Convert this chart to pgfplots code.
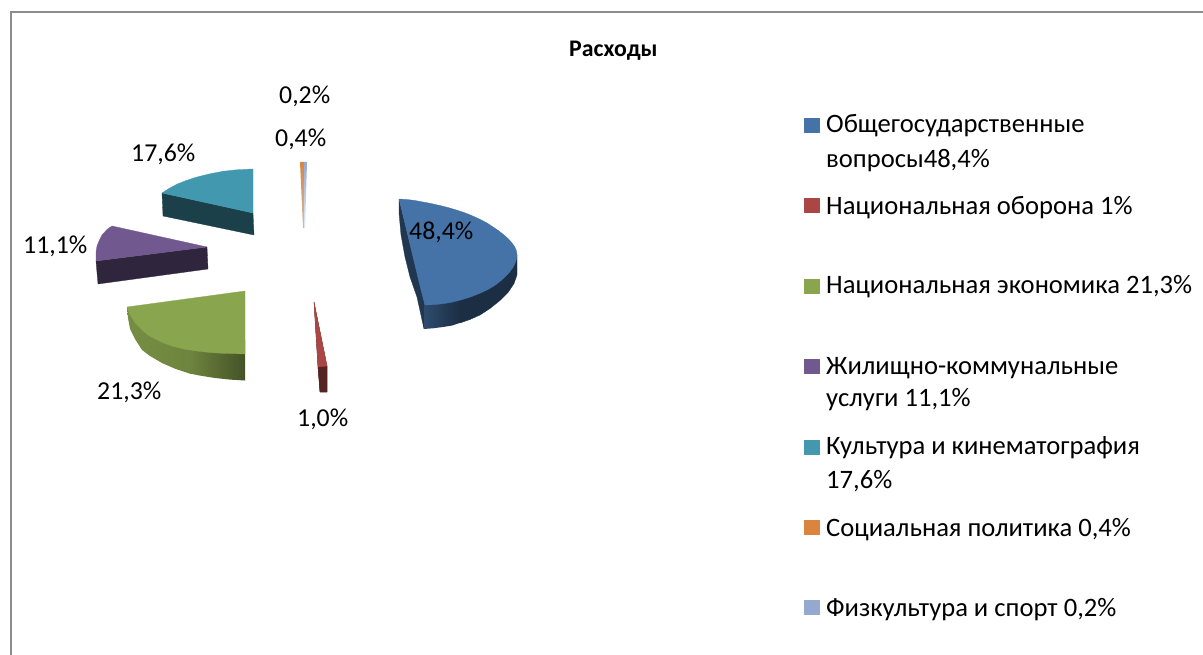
\documentclass[border=0pt]{standalone}
\usepackage{pgfplots}
\pgfplotsset{compat=1.18}
\usepackage{fontspec}
\setmainfont{Carlito}
\newcommand\face[2]{\addplot[fill=#1,draw=#1,line width=0.3pt,line join=round] coordinates {#2} --cycle;}
\newcommand\grad[3]{\addplot[draw=none,shade,left color=#1,right color=#2] coordinates {#3} --cycle;}
\newcommand\vgrad[3]{\addplot[draw=none,shade,top color=#1,bottom color=#2] coordinates {#3} --cycle;}
\newcommand\lab[3]{\node[anchor=base west,inner sep=0pt,font=\fontsize{25.8}{25.8}\selectfont,text=black] at (axis cs:#1,#2) {#3};}
\newcommand\leg[3]{\node[anchor=base west,inner sep=0pt,font=\fontsize{26.6}{26.6}\selectfont,text=black] at (axis cs:#1,#2) {#3};}
\definecolor{cb}{HTML}{4572A7}\definecolor{cr}{HTML}{AA4643}\definecolor{cg}{HTML}{89A54E}
\definecolor{cp}{HTML}{71588F}\definecolor{ct}{HTML}{4198AF}\definecolor{co}{HTML}{DB843D}\definecolor{cl}{HTML}{93A9CF}
\begin{document}
\begin{tikzpicture}
\path[use as bounding box] (0,0) rectangle (1203pt,655pt);
\begin{axis}[scale only axis,width=1203pt,height=655pt,xmin=0,xmax=1203,ymin=0,ymax=655,y dir=reverse,hide axis]
% frame
\addplot[draw=black!45,line width=2pt] coordinates {(10.5,655) (10.5,12.5) (1203,12.5)};
% blue side
\face{cb!48!black}{(399,199) (399,213) (401,235) (405,257) (410,277) (417,297) (424,329) (425,305)}
\grad{cb!66!black}{cb!40!black}{(425,295) (424,329) (433,328.3) (443,327) (452,325.5) (461,322.5) (461,295)}
\face{cb!40!black}{(460,295) (460,323) (470,319.5) (480,315) (490,308.5) (500,300.5) (508,292.5) (514,283.5) (517,275) (517,255) (500,270)}
% blue top
\face{cb}{(399,199) (407,199.5) (415,200.5) (423,202) (430,203.3) (440,205.5) (449,207.8) (458,210.5) (467,213.6) (475,217) (482,220.3) (488,223.6) (493,227) (499,231) (504,235) (508.5,239) (512,243) (514.8,247) (516.5,251) (517,255) (516.5,259) (515.2,263) (513,267.5) (510,271.5) (506,276) (500,281.5) (494,286) (487,290) (480,293.3) (471,296.8) (462,299.7) (453,302) (444,303.6) (434,304.7) (425,305) (421,290) (415,265) (409,240) (403,215)}
% red
\face{cr!45!black}{(314,302) (318,367) (320,392) (327,392) (327,366)}
\face{cr!50!black}{(318,367) (320,392) (327,392) (327,366)}
\face{cr}{(314,302) (327,366) (318,367)}
% green side
\grad{cg!86!black}{cg!80!black}{(127,307) (128,318) (130,329) (135,339) (142,350) (150,356) (162,363) (175,368.7) (191,374) (191,340)}
\grad{cg!80!black}{cg!50!black}{(190,340) (190,373.6) (200,375.6) (215,378) (230,379.6) (245,380.5) (245,340)}
% green top
\face{cg}{(245,291) (127,307) (130,314.5) (135,322.5) (141,329) (148,335) (155,339) (163,342.8) (172,346) (185,349.3) (198,351.2) (210,352.5) (222,353.3) (245,354)}
% purple
\face{cp!42!black}{(96,261) (98,284) (208,269) (207,247)}
\face{cp}{(207,247) (112,226) (107,229.5) (102,235) (99,241) (97,246) (96,252) (96,261)}
% teal
\face{ct!42!black}{(162,193) (163,216) (254,235) (253,213)}
\face{ct}{(253,213) (253,169) (238,169.7) (223,171.3) (210,173.8) (197,177) (186,180.6) (177,184.2) (169,188.5) (162,193)}
% orange, light blue
\vgrad{co}{co!50!black!35}{(300,162) (304,162) (304,228) (303,228)}
\vgrad{cl}{cl!25}{(304,162) (307,162) (305,228) (304,228)}
% legend keys
\face{cb}{(804,118) (819,118) (819,132) (804,132)}
\face{cr}{(804,198) (819,198) (819,212.5) (804,212.5)}
\face{cg}{(804,279) (819,279) (819,293) (804,293)}
\face{cp}{(804,359) (819,359) (819,373) (804,373)}
\face{ct}{(804,440) (819,440) (819,454) (804,454)}
\face{co}{(804,520) (819,520) (819,534) (804,534)}
\face{cl}{(804,600) (819,600) (819,614) (804,614)}
% title
\node[anchor=base west,inner sep=0pt,font=\fontsize{23.8}{23.8}\selectfont\bfseries] at (axis cs:569,57) {Расходы};
% data labels
\lab{409}{240}{48,4\%}
\lab{279}{104}{0,2\%}
\lab{275}{147}{0,4\%}
\lab{131}{162}{17,6\%}
\lab{23}{254}{11,1\%}
\lab{97}{399}{21,3\%}
\lab{297}{426}{1,0\%}
% legend text
\leg{826}{133}{Общегосударственные}
\leg{826}{168}{вопросы48,4\%}
\leg{826}{215}{Национальная оборона 1\%}
\leg{826}{294}{Национальная экономика 21,3\%}
\leg{826}{374}{Жилищно-коммунальные}
\leg{826}{406.5}{услуги 11,1\%}
\leg{826}{454}{Культура и кинематография}
\leg{826}{488}{17,6\%}
\leg{826}{536}{Социальная политика 0,4\%}
\leg{826}{616}{Физкультура и спорт 0,2\%}
\end{axis}
\end{tikzpicture}
\end{document}
